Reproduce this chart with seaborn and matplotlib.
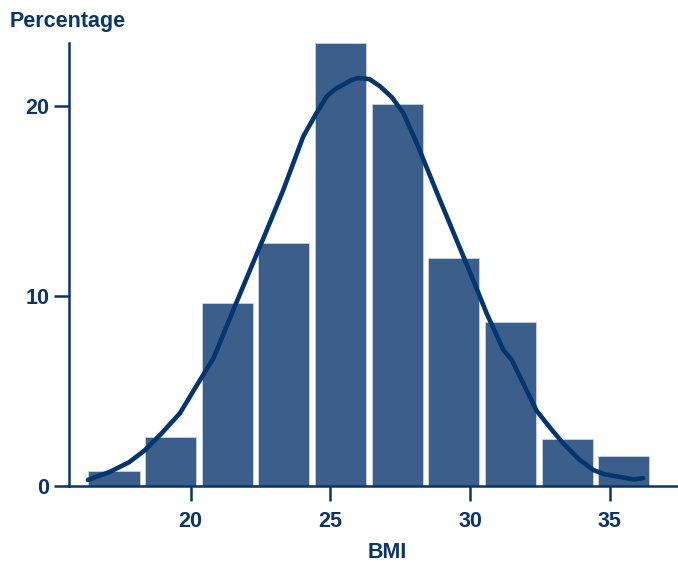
import matplotlib
matplotlib.use("Agg")
import matplotlib.pyplot as plt
import seaborn as sns
import pandas as pd

# BMI histogram, bins about 2 units wide
bin_centers = [17.26, 19.29, 21.31, 23.34, 25.36, 27.39, 29.42, 31.44, 33.47, 35.50]
percentages = [0.8, 2.6, 9.6, 12.8, 23.3, 20.1, 12.0, 8.65, 2.47, 1.6]

# fitted curve
curve_x = [16.33, 17.12, 17.8, 18.37, 18.95, 19.62, 20.34, 20.82, 21.53, 22.13,
           22.73, 23.32, 24.03, 24.5, 24.87, 25.2, 25.47, 25.75, 26.00, 26.4,
           26.78, 27.2, 27.61, 28.09, 28.92, 30.11, 30.59, 31.19, 31.49, 32.38,
           32.9, 33.33, 33.9, 34.41, 34.8, 35.12, 35.84, 36.19]
curve_y = [0.32, 0.75, 1.25, 1.89, 2.75, 3.83, 5.58, 6.72, 9.26, 11.37,
           13.47, 15.58, 18.38, 19.6, 20.49, 20.9, 21.11, 21.35, 21.46, 21.4,
           21.02, 20.45, 19.62, 18.04, 15.05, 10.84, 9.09, 7.16, 6.63, 3.96,
           3.0, 2.25, 1.4, 0.84, 0.62, 0.54, 0.35, 0.41]

xticks = [20, 25, 30, 35]
yticks = [0, 10, 20]

navy = "#0b3468"
bar_col = "#3b5f8a"
line_col = "#03356f"

sns.set_style("ticks")
plt.rcParams['font.family'] = ['Liberation Sans', 'DejaVu Sans']
plt.rcParams['font.weight'] = 'bold'

fig = plt.figure(figsize=(6.78, 5.62), dpi=100)
ax = fig.add_axes([69 / 678, 1 - 486 / 562, 609 / 678, (486 - 43) / 562])

df = pd.DataFrame({"BMI": bin_centers, "pct": percentages})
step = bin_centers[1] - bin_centers[0]
edges = [c - step / 2 for c in bin_centers] + [bin_centers[-1] + step / 2]
sns.histplot(data=df, x="BMI", weights="pct", bins=edges, shrink=0.9,
             color=bar_col, alpha=1, edgecolor="#c8d2e0", linewidth=0.6, ax=ax)
sns.lineplot(x=curve_x, y=curve_y, sort=False, color=line_col, linewidth=3.3,
             solid_joinstyle="round", solid_capstyle="round", ax=ax)

ax.set_xlim(15.65, 37.44)
ax.set_ylim(0, 23.3)
ax.set_xticks(xticks)
ax.set_yticks(yticks)
ax.set_xlabel("")
ax.set_ylabel("")

for s in ["top", "right"]:
    ax.spines[s].set_visible(False)
for s in ["left", "bottom"]:
    ax.spines[s].set_color(navy)
    ax.spines[s].set_linewidth(1.8)
ax.tick_params(axis="both", colors=navy, length=11, width=1.8, labelsize=15.5)
ax.tick_params(axis="x", pad=7)
ax.tick_params(axis="y", pad=3)
for lab in ax.get_xticklabels() + ax.get_yticklabels():
    lab.set_fontweight("bold")

fig.text(10 / 678, 1 - 22 / 562, "Percentage", color=navy, fontsize=15.5,
         fontweight="bold", ha="left", va="center")
fig.text(387 / 678, 1 - 553 / 562, "BMI", color=navy, fontsize=15.5,
         fontweight="bold", ha="center", va="center")

fig.savefig("out.png", dpi=100)
